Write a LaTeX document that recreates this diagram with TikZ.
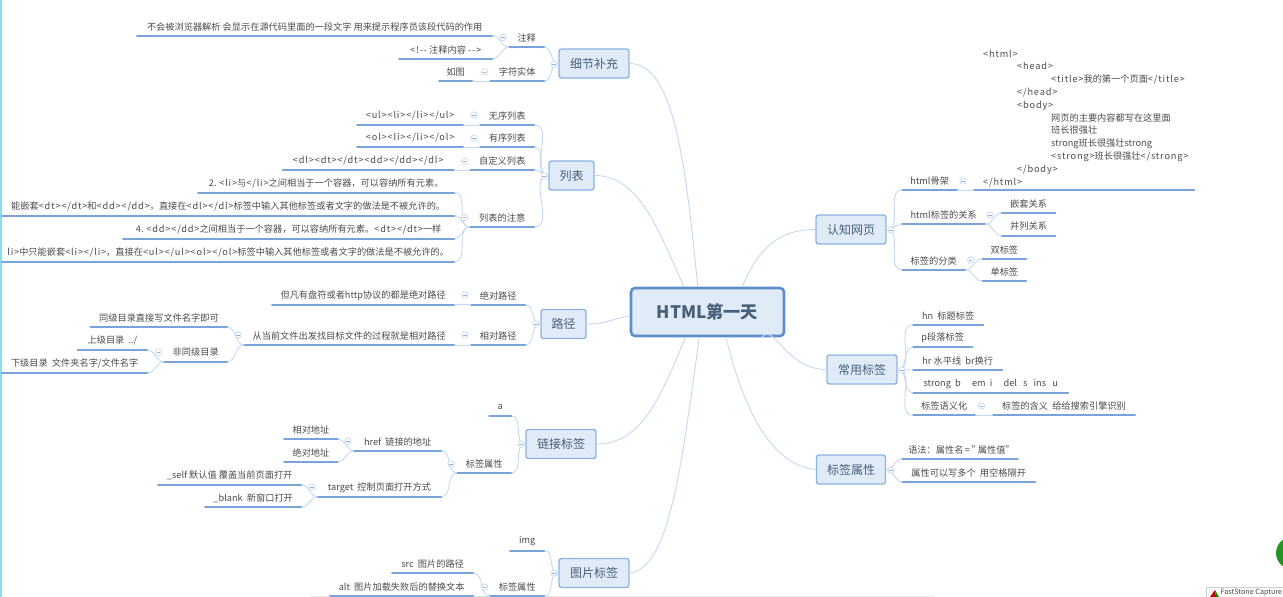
\documentclass[tikz,border=0pt]{standalone}
\usepackage{fontspec}
\setmainfont{Noto Sans CJK SC}
\definecolor{linkblue}{HTML}{C4D8F0}
\definecolor{rulblue}{HTML}{7AA4D9}
\definecolor{boxblue}{HTML}{8DB3E2}
\definecolor{boxfill}{HTML}{E0EBF8}
\definecolor{rootblue}{HTML}{5D8FCC}
\definecolor{inkgray}{HTML}{4A4A4A}
\definecolor{inkblue}{HTML}{4A5F78}
\newcommand{\tg}[1]{{\addfontfeature{LetterSpace=9}#1}}
\tikzset{
  leaf/.style={anchor=south west,inner sep=0pt,minimum height=18pt,font=\fontsize{9.2}{12.8}\selectfont,text=inkgray,
    append after command={\pgfextra{\draw[rulblue,line width=2pt,line cap=round] (\tikzlastnode.south west) -- (\tikzlastnode.south east);}}},
  branch/.style={draw=boxblue,fill=boxfill,line width=1.4pt,rounded corners=2.5pt,inner sep=0pt,font=\fontsize{12}{14}\selectfont,text=inkblue},
  root/.style={draw=rootblue,fill=boxfill,line width=2.6pt,rounded corners=4pt,inner sep=0pt,minimum width=153pt,minimum height=48pt,font=\fontsize{17.2}{20}\selectfont\bfseries,text=inkblue},
  link/.style={draw=linkblue,line width=0.9pt},
  fold/.style={circle,draw=linkblue,fill=white,line width=0.7pt,minimum size=6.4pt,inner sep=0pt,
    path picture={\draw[boxblue,line width=0.5pt] ([xshift=-1.6pt]path picture bounding box.center) -- ([xshift=1.6pt]path picture bounding box.center);}}
}
\begin{document}
\begin{tikzpicture}[x=1pt,y=-1pt]
    \useasboundingbox (0,0) rectangle (1283,597);

    % Window edges
    \fill[cyan!45] (0,0) rectangle (2,597);
    \fill[gray!18] (310,596) rectangle (935,597);

    % Root and branches
    \node[root] (root) at (707.5,312) {HTML第一天};
    \node[branch,minimum width=70pt,minimum height=29pt] (detail) at (594,63.5) {细节补充};
    \node[branch,minimum width=45pt,minimum height=29pt] (list) at (571.5,175.5) {列表};
    \node[branch,minimum width=45pt,minimum height=29pt] (path) at (563.5,324) {路径};
    \node[branch,minimum width=70pt,minimum height=29pt] (anchor) at (561,444) {链接标签};
    \node[branch,minimum width=70pt,minimum height=29pt] (image) at (594,573) {图片标签};
    \node[branch,minimum width=70pt,minimum height=29pt] (web) at (851,229.5) {认知网页};
    \node[branch,minimum width=70pt,minimum height=29pt] (common) at (862,369.5) {常用标签};
    \node[branch,minimum width=69pt,minimum height=29pt] (attr) at (851,469.5) {标签属性};

    % Root links
    \draw[link] (detail.east) .. controls +(45,0) and +(-12,-120) .. (root.111);
    \draw[link] (list.east) .. controls +(45,0) and +(-25,-55) .. (root.133);
    \draw[link] (path.east) .. controls +(20,0) and +(-20,3) .. (root.183);
    \draw[link] (anchor.east) .. controls +(45,0) and +(-25,60) .. (root.229);
    \draw[link] (image.east) .. controls +(40,-5) and +(-18,130) .. (root.252);
    \draw[link] (web.west) .. controls +(-40,0) and +(15,-35) .. (root.36);
    \draw[link] (common.west) .. controls +(-40,0) and +(12,-15) .. (root.335);
    \draw[link] (attr.west) .. controls +(-50,-5) and +(15,60) .. (root.306);

    % Comments
    \node[leaf,minimum width=35pt] (note) at (509,47.3) {注释};
    \node[leaf,minimum width=355pt] (noteA) at (137,35.7) {不会被浏览器解析 会显示在源代码里面的一段文字 用来提示程序员该段代码的作用};
    \node[leaf,minimum width=93pt] (noteB) at (399,58.7) {\tg{<!-{}-} 注释内容 \tg{-{}->}};
    \node[leaf,minimum width=54pt] (entity) at (490,81) {字符实体};
    \node[leaf,minimum width=33pt] (entityA) at (439,81) {如图};
    \draw[link] (detail.west) to[out=180,in=0] (note.south east);
    \draw[link] (detail.west) to[out=180,in=0] (entity.south east);
    \draw[link] (note.south west) to[out=180,in=0] (noteA.south east);
    \draw[link] (note.south west) to[out=180,in=0] (noteB.south east);
    \draw[link] (entity.south west) -- (entityA.south east);

    % Lists
    \node[leaf,minimum width=54pt] (ul) at (480,125) {无序列表};
    \node[leaf,minimum width=106pt] (ulA) at (357,125) {\tg{<ul><li></li></ul>}};
    \node[leaf,minimum width=54pt] (ol) at (480,147) {有序列表};
    \node[leaf,minimum width=106pt] (olA) at (357,147) {\tg{<ol><li></li></ol>}};
    \node[leaf,minimum width=64pt] (dl) at (470,170) {自定义列表};
    \node[leaf,minimum width=171pt] (dlA) at (282.5,170) {\tg{<dl><dt></dt><dd></dd></dl>}};
    \node[leaf,minimum width=64pt] (tips) at (470,227) {列表的注意};
    \node[leaf,minimum width=256pt] (tipA) at (198,192.7) {2. \tg{<li>}与\tg{</li>}之间相当于一个容器，可以容纳所有元素。};
    \node[leaf,minimum width=452pt] (tipB) at (2,215.7) {能嵌套\tg{<dt></dt>}和\tg{<dd></dd>}，直接在\tg{<dl></dl>}标签中输入其他标签或者文字的做法是不被允许的。};
    \node[leaf,minimum width=331pt] (tipC) at (123,238.5) {4. \tg{<dd></dd>}之间相当于一个容器，可以容纳所有元素。\tg{<dt></dt>}一样};
    \node[leaf,minimum width=452pt] (tipD) at (2,261.7) {\tg{li>}中只能嵌套\tg{<li></li>}，直接在\tg{<ul></ul><ol></ol>}标签中输入其他标签或者文字的做法是不被允许的。};
    \draw[link] (list.west) to[out=180,in=0] (ul.south east);
    \draw[link] (list.west) to[out=180,in=0] (ol.south east);
    \draw[link] (list.west) to[out=180,in=0] (dl.south east);
    \draw[link] (list.west) to[out=180,in=0] (tips.south east);
    \draw[link] (ul.south west) -- (ulA.south east);
    \draw[link] (ol.south west) -- (olA.south east);
    \draw[link] (dl.south west) -- (dlA.south east);
    \draw[link] (tips.south west) to[out=180,in=0] (tipA.south east);
    \draw[link] (tips.south west) to[out=180,in=0] (tipB.south east);
    \draw[link] (tips.south west) to[out=180,in=0] (tipC.south east);
    \draw[link] (tips.south west) to[out=180,in=0] (tipD.south east);

    % Paths
    \node[leaf,minimum width=54pt] (abs) at (471,304.7) {绝对路径};
    \node[leaf,minimum width=182pt] (absA) at (272,304.7) {但凡有盘符或者http协议的都是绝对路径};
    \node[leaf,minimum width=54pt] (rel) at (471,345) {相对路径};
    \node[leaf,minimum width=210pt] (relA) at (244,345) {从当前文件出发找目标文件的过程就是相对路径};
    \node[leaf,minimum width=136.5pt] (same) at (90.5,327.3) {同级目录直接写文件名字即可};
    \node[leaf,minimum width=63pt] (other) at (164,361.7) {非同级目录};
    \node[leaf,minimum width=69.5pt] (up) at (77.5,350) {上级目录 \ ../};
    \node[leaf,minimum width=145pt] (down) at (2,373) {下级目录 \ 文件夹名字/文件名字};
    \draw[link] (path.west) to[out=180,in=0] (abs.south east);
    \draw[link] (path.west) to[out=180,in=0] (rel.south east);
    \draw[link] (abs.south west) -- (absA.south east);
    \draw[link] (rel.south west) -- (relA.south east);
    \draw[link] (relA.south west) to[out=180,in=0] (same.south east);
    \draw[link] (relA.south west) to[out=180,in=0] (other.south east);
    \draw[link] (other.south west) to[out=180,in=0] (up.south east);
    \draw[link] (other.south west) to[out=180,in=0] (down.south east);

    % Anchor tag
    \node[leaf,minimum width=22pt] (tagA) at (489,416) {a};
    \node[leaf,minimum width=54pt] (aAttr) at (457,473) {标签属性};
    \node[leaf,minimum width=87pt] (href) at (354,450.7) {href \ 链接的地址};
    \node[leaf,minimum width=123.5pt] (target) at (317.5,496.7) {target \ 控制页面打开方式};
    \node[leaf,minimum width=53.5pt] (hrefA) at (284,439.3) {相对地址};
    \node[leaf,minimum width=53.5pt] (hrefB) at (284,462) {绝对地址};
    \node[leaf,minimum width=143pt] (self) at (158,484.7) {\_self 默认值 覆盖当前页面打开};
    \node[leaf,minimum width=96pt] (blank) at (205,507.3) {\_blank \ 新窗口打开};
    \draw[link] (anchor.west) to[out=180,in=0] (tagA.south east);
    \draw[link] (anchor.west) to[out=180,in=0] (aAttr.south east);
    \draw[link] (aAttr.south west) to[out=180,in=0] (href.south east);
    \draw[link] (aAttr.south west) to[out=180,in=0] (target.south east);
    \draw[link] (href.south west) to[out=180,in=0] (hrefA.south east);
    \draw[link] (href.south west) to[out=180,in=0] (hrefB.south east);
    \draw[link] (target.south west) to[out=180,in=0] (self.south east);
    \draw[link] (target.south west) to[out=180,in=0] (blank.south east);

    % Image tag
    \node[leaf,minimum width=34pt] (img) at (510,550.7) {img};
    \node[leaf,minimum width=54pt] (imgAttr) at (490,596) {标签属性};
    \node[leaf,minimum width=81pt] (src) at (392,573.3) {src \ 图片的路径};
    \node[leaf,minimum width=143pt] (alt) at (330,596) {alt \ 图片加载失败后的替换文本};
    \draw[link] (image.west) to[out=180,in=0] (img.south east);
    \draw[link] (image.west) to[out=180,in=0] (imgAttr.south east);
    \draw[link] (imgAttr.south west) to[out=180,in=0] (src.south east);
    \draw[link] (imgAttr.south west) to[out=180,in=0] (alt.south east);

    % Knowing the page
    \node[leaf,minimum width=55pt] (frame) at (902,190) {html骨架};
    \node[leaf,minimum width=220pt,text width=220pt,align=left,inner ysep=3pt] (frameA) at (974,190) {%
      \hspace*{9pt}\tg{<html>}\\
      \hspace*{43pt}\tg{<head>}\\
      \hspace*{77pt}\tg{<title>}我的第一个页面\tg{</title>}\\
      \hspace*{43pt}\tg{</head>}\\
      \hspace*{43pt}\tg{<body>}\\
      \hspace*{77pt}网页的主要内容都写在这里面\\
      \hspace*{77pt}班长很强壮\\
      \hspace*{77pt}strong班长很强壮strong\\
      \hspace*{77pt}\tg{<strong>}班长很强壮\tg{</strong>}\\
      \hspace*{43pt}\tg{</body>}\\
      \hspace*{9pt}\tg{</html>}};
    \node[leaf,minimum width=83pt] (nest) at (902,224.3) {html标签的关系};
    \node[leaf,minimum width=53.3pt] (nestA) at (1001.7,212.7) {嵌套关系};
    \node[leaf,minimum width=53.3pt] (nestB) at (1001.7,235.7) {并列关系};
    \node[leaf,minimum width=63pt] (kind) at (902,269.7) {标签的分类};
    \node[leaf,minimum width=43.7pt] (kindA) at (982.3,258.7) {双标签};
    \node[leaf,minimum width=43.7pt] (kindB) at (982.3,281.3) {单标签};
    \draw[link] (web.east) to[out=0,in=180] (frame.south west);
    \draw[link] (web.east) to[out=0,in=180] (nest.south west);
    \draw[link] (web.east) to[out=0,in=180] (kind.south west);
    \draw[link] (frame.south east) -- (frameA.south west);
    \draw[link] (nest.south east) to[out=0,in=180] (nestA.south west);
    \draw[link] (nest.south east) to[out=0,in=180] (nestB.south west);
    \draw[link] (kind.south east) to[out=0,in=180] (kindA.south west);
    \draw[link] (kind.south east) to[out=0,in=180] (kindB.south west);

    % Common tags
    \node[leaf,minimum width=70pt] (hn) at (913,324.7) {hn \ 标题标签};
    \node[leaf,minimum width=59pt] (para) at (913,347.3) {p段落标签};
    \node[leaf,minimum width=89pt] (hr) at (913,370) {hr 水平线 \ br换行};
    \node[leaf,minimum width=155pt] (strong) at (913,392.7) {strong \ b \quad em \ i \quad del \ \ s \ \ ins \ \ u};
    \node[leaf,minimum width=62pt] (sem) at (913,415.3) {标签语义化};
    \node[leaf,minimum width=141.6pt] (semA) at (993,415.3) {标签的含义 \ 给给搜索引擎识别};
    \draw[link] (common.east) to[out=0,in=180] (hn.south west);
    \draw[link] (common.east) to[out=0,in=180] (para.south west);
    \draw[link] (common.east) to[out=0,in=180] (hr.south west);
    \draw[link] (common.east) to[out=0,in=180] (strong.south west);
    \draw[link] (common.east) to[out=0,in=180] (sem.south west);
    \draw[link] (sem.south east) -- (semA.south west);

    % Tag attributes
    \node[leaf,minimum width=115.5pt] (syntax) at (902,459) {语法：属性名\,=\,"\kern-3pt 属性值"\kern-3pt};
    \node[leaf,minimum width=133pt] (many) at (902,481.7) {属性可以写多个 \ 用空格隔开};
    \draw[link] (attr.east) to[out=0,in=180] (syntax.south west);
    \draw[link] (attr.east) to[out=0,in=180] (many.south west);

    % Fold marks
    \foreach \x/\y [count=\i] in {503/37.5,554/64,484.5/72,474/115,474/138,464.5/161,544/176,464.5/217.5,
        465/295,465/335,536/324,238/335,158.4/352,521/444,451/464,348/441,312/487,554/573,484.5/587,
        891/230,963/181,990/215,970.7/260,902/370,981.5/406,891/470}
      \node[fold] (fold\i) at (\x,\y) {};

    % Capture tool corner
    \fill[green!50!black!85] (1292,553) circle (16);
    \draw[gray!40,fill=white] (1206,598) -- (1206,587.5) -- (1284,587.5) -- (1284,598);
    \fill[red!75!black] (1210,597) -- (1215,590) -- (1216,597) -- cycle;
    \fill[green!60!black] (1216,597) -- (1215,590) -- (1219,597) -- cycle;
    \node[anchor=west,inner sep=0pt,font=\fontsize{7.2}{9}\selectfont,text=inkgray] (tool) at (1220.5,592.5) {FastStone Capture};
\end{tikzpicture}
\end{document}
